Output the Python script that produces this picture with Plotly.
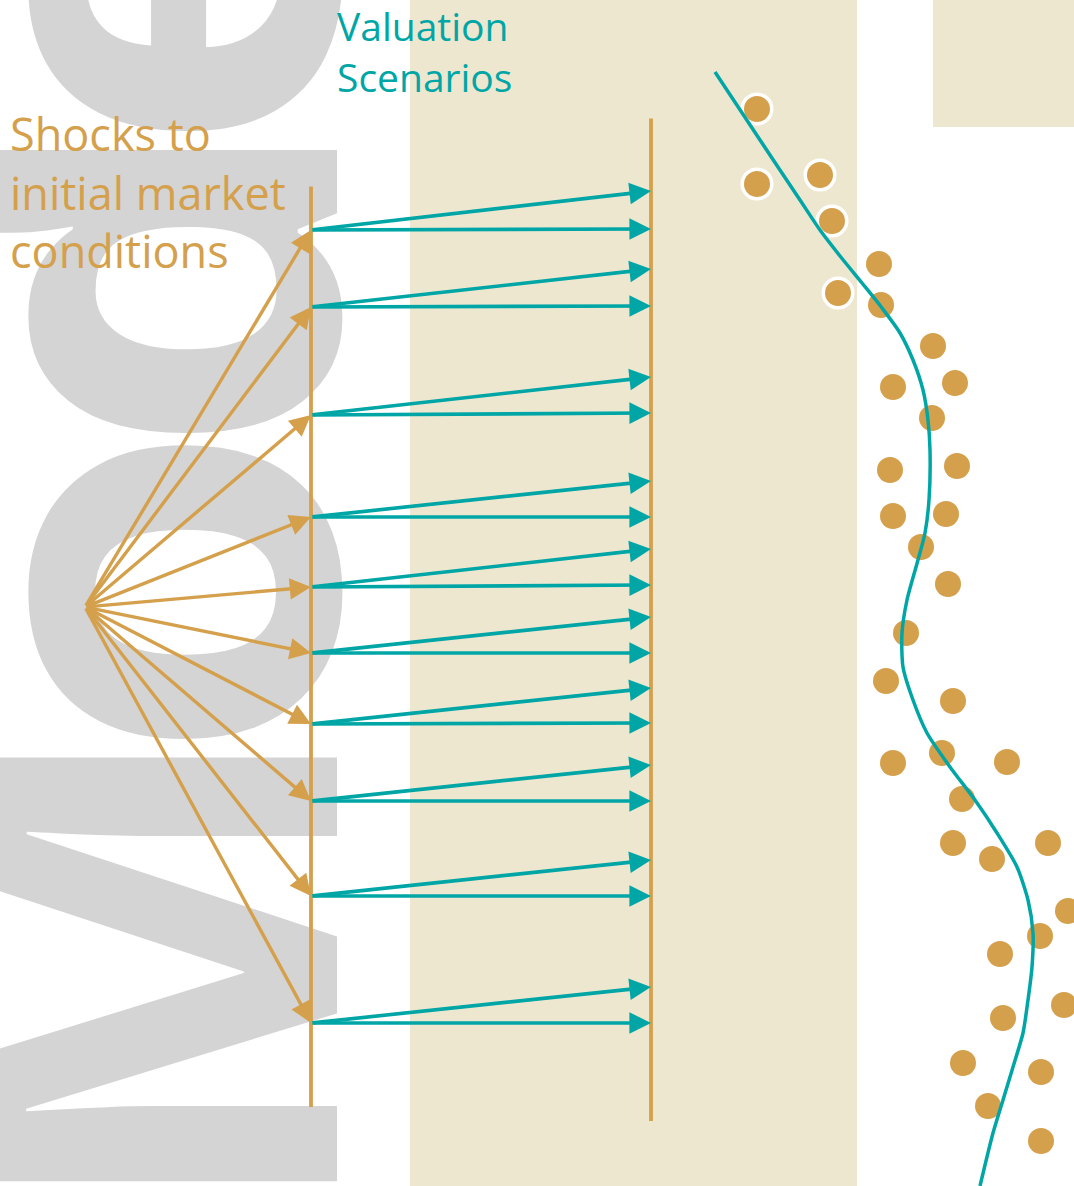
import plotly.graph_objects as go

W, H = 1074, 1186

ORANGE = "#D4A04C"
TEAL = "#00A6A6"
BEIGE = "#EEE7D0"
GREY = "#D4D4D4"

# Shock fan: hub point and the two vertical axes
fan_origin = (85, 607)
shock_axis_x = 311
scenario_axis_x = 651
shock_axis_span = (185, 1107)
scenario_axis_span = (117, 1121)

# Where each shock lands on the shock axis
shock_y = [230, 307, 415, 517, 587, 653, 724, 801, 896, 1023]
# Each shock branches into two valuation scenarios
scenario_upper_y = [191, 269, 377, 481, 549, 617, 688, 765, 860, 987]
scenario_lower_y = [229, 306, 413, 517, 585, 653, 723, 801, 896, 1023]

# Valuation curve
curve_x = [715, 760, 800, 820, 840, 862, 882, 900, 913, 923, 928, 930, 929, 925,
           918, 907, 902, 903, 913, 927, 950, 975, 997, 1017, 1028, 1033, 1032,
           1028, 1023, 1013, 1003, 993, 980]
curve_y = [72, 140, 200, 230, 256, 283, 308, 333, 360, 390, 420, 450, 500, 533,
           560, 600, 633, 667, 700, 733, 767, 800, 833, 867, 900, 933, 967,
           1000, 1033, 1067, 1100, 1133, 1186]

# Scenario outcomes (highlighted ones carry a white ring)
hi_x = [757, 757, 820, 832, 838]
hi_y = [109, 184, 175, 221, 293]
pt_x = [879, 881, 933, 955, 893, 932, 890, 957, 893, 946, 921, 948, 906, 886,
        953, 893, 942, 1007, 962, 953, 992, 1048, 1068, 1040, 1000, 1064, 1003,
        963, 1041, 988, 1041]
pt_y = [264, 305, 346, 383, 387, 418, 470, 466, 516, 514, 547, 584, 633, 681,
        701, 763, 753, 762, 799, 843, 859, 843, 911, 936, 954, 1005, 1018,
        1063, 1072, 1106, 1141]

# Watermark word, set letter by letter along the left edge (pixel centres)
watermark_letters = ["M", "o", "d", "e", "l"]
watermark_centers = [970, 592, 283, -8, -232]
watermark_x = 122

fig = go.Figure()

fig.add_trace(go.Scatter(
    x=pt_x, y=pt_y, mode="markers",
    marker=dict(size=26, color=ORANGE, line=dict(width=0)),
    hoverinfo="skip"))
fig.add_trace(go.Scatter(
    x=hi_x, y=hi_y, mode="markers",
    marker=dict(size=29.5, color=ORANGE, line=dict(width=3.5, color="white")),
    hoverinfo="skip"))
fig.add_trace(go.Scatter(
    x=curve_x, y=curve_y, mode="lines",
    line=dict(color=TEAL, width=3.5, shape="spline", smoothing=0.7),
    hoverinfo="skip"))

shapes = [
    dict(type="rect", xref="x", yref="y", x0=410, x1=857, y0=0, y1=H,
         fillcolor=BEIGE, line=dict(width=0), layer="below"),
    dict(type="rect", xref="x", yref="y", x0=933, x1=W, y0=0, y1=127,
         fillcolor=BEIGE, line=dict(width=0), layer="below"),
]

annotations = []

for ch, yc in zip(watermark_letters, watermark_centers):
    annotations.append(dict(
        xref="paper", yref="paper", x=watermark_x / W, y=1 - yc / H,
        text="<b>%s</b>" % ch,
        showarrow=False, textangle=-90, xanchor="center", yanchor="middle",
        font=dict(family="Open Sans", size=555, color=GREY)))


def arrow(x0, y0, x1, y1, color, width, head=True, size=1.0):
    return dict(
        xref="x", yref="y", axref="x", ayref="y",
        x=x1, y=y1, ax=x0, ay=y0, text="", showarrow=True,
        arrowhead=2, arrowsize=size, arrowwidth=width, arrowcolor=color,
        arrowside="end" if head else "none", standoff=0, startstandoff=0)


# Vertical axes
annotations.append(arrow(shock_axis_x, shock_axis_span[0], shock_axis_x,
                         shock_axis_span[1], ORANGE, 3.8, head=False))
annotations.append(arrow(scenario_axis_x, scenario_axis_span[0], scenario_axis_x,
                         scenario_axis_span[1], ORANGE, 3.8, head=False))

# Fan of shocks
for y in shock_y:
    annotations.append(arrow(fan_origin[0], fan_origin[1], shock_axis_x, y,
                             ORANGE, 3.4, size=1.25))

# Scenario branches
for y, yu, yl in zip(shock_y, scenario_upper_y, scenario_lower_y):
    annotations.append(arrow(shock_axis_x, y, scenario_axis_x, yu, TEAL, 3.6, size=1.2))
    annotations.append(arrow(shock_axis_x, y, scenario_axis_x, yl, TEAL, 3.6, size=1.2))

annotations.append(dict(
    xref="paper", yref="paper", x=335 / W, y=1 + 3 / H, text="Valuation<br>Scenarios",
    showarrow=False, xanchor="left", yanchor="top", align="left",
    font=dict(family="Open Sans", size=39, color=TEAL)))
annotations.append(dict(
    xref="x", yref="y", x=8, y=101, text="Shocks to<br>initial market<br>conditions",
    showarrow=False, xanchor="left", yanchor="top", align="left",
    font=dict(family="Open Sans", size=45, color=ORANGE)))

fig.update_layout(
    width=W, height=H, margin=dict(l=0, r=0, t=0, b=0),
    paper_bgcolor="white", plot_bgcolor="white", showlegend=False,
    xaxis=dict(range=[0, W], visible=False, fixedrange=True),
    yaxis=dict(range=[H, 0], visible=False, fixedrange=True),
    shapes=shapes, annotations=annotations)

fig.write_html("out.html")
